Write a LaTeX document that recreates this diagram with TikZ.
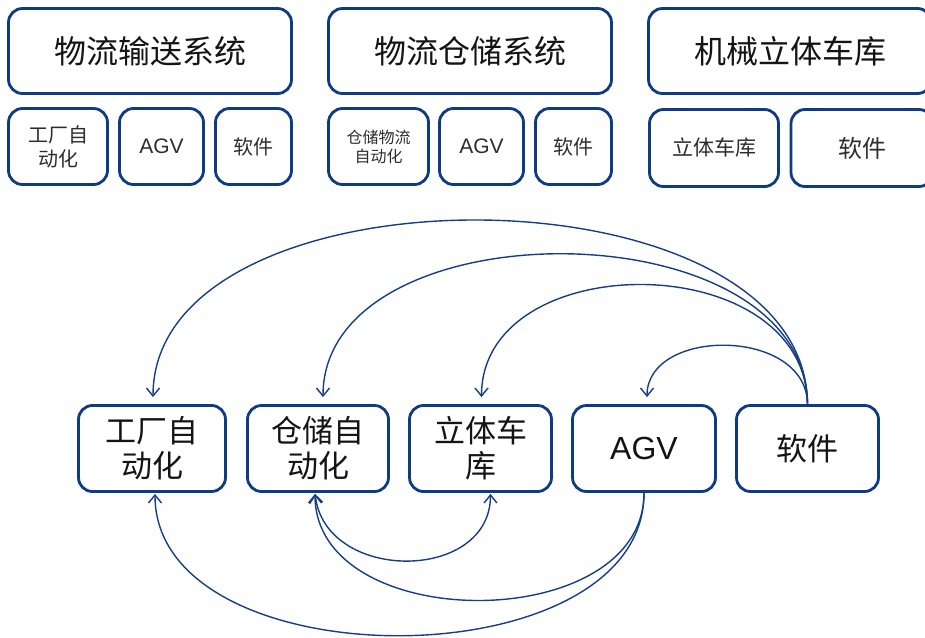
\documentclass[tikz,border=0pt]{standalone}
\usepackage{fontspec}
\setmainfont{Liberation Sans}
\newfontfamily\cjk{Noto Sans CJK SC}
\usetikzlibrary{arrows.meta}
\definecolor{boxblue}{RGB}{14,59,131}
\definecolor{linkblue}{RGB}{22,62,136}
\definecolor{txt}{RGB}{20,20,20}
\definecolor{txtsmall}{RGB}{45,45,45}
\begin{document}
\begin{tikzpicture}[x=1pt,y=-1pt,
  box/.style={draw=boxblue, line width=2.8pt, rounded corners=14pt, fill=white, align=center, inner sep=0pt, text=txt},
  title/.style={box, minimum width=283pt, minimum height=85pt, font=\cjk\fontsize{32}{38}\selectfont},
  sub/.style={box, minimum height=76pt, text=txtsmall},
  big/.style={box, minimum width=142pt, minimum height=86pt, font=\cjk\fontsize{31}{35}\selectfont},
  link/.style={draw=linkblue, line width=1.4pt, -{Straight Barb[length=8pt,width=13pt]}, shorten >=7pt},
  blink/.style={draw=linkblue, line width=1.4pt, -{Straight Barb[length=8pt,width=13pt]}, shorten >=1pt},
]
\useasboundingbox (0,0) rectangle (925,637);

% top titles
\node[title] (A) at (150,51) {物流输送系统};
\node[title] (B) at (470,51) {物流仓储系统};
\node[title] (C) at (790,51) {机械立体车库};

% top sub boxes
\node[sub, minimum width=99pt, font=\cjk\fontsize{20}{24}\selectfont] (a1) at (58,146.5) {工厂自\\动化};
\node[sub, minimum width=84pt, font=\fontsize{21}{25}\selectfont] (a2) at (161.5,146.5) {AGV};
\node[sub, minimum width=76pt, font=\cjk\fontsize{20}{24}\selectfont] (a3) at (253.5,146.5) {软件};

\node[sub, minimum width=100pt, font=\cjk\fontsize{16}{19}\selectfont] (b1) at (378.5,146.5) {仓储物流\\自动化};
\node[sub, minimum width=84pt, font=\fontsize{21}{25}\selectfont] (b2) at (481.5,146.5) {AGV};
\node[sub, minimum width=76pt, font=\cjk\fontsize{20}{24}\selectfont] (b3) at (573.5,146.5) {软件};

\node[sub, minimum width=129pt, minimum height=77pt, font=\cjk\fontsize{21}{25}\selectfont] (c1) at (714,148) {立体车库};
\node[sub, minimum width=142pt, minimum height=77pt, font=\cjk\fontsize{24}{28}\selectfont] (c2) at (862,148) {软件};

% bottom row
\node[big, minimum width=147pt] (f1) at (152,448.5) {工厂自\\动化};
\node[big, minimum width=141pt] (f2) at (318,448.5) {仓储自\\动化};
\node[big] (f3) at (480.5,448.5) {立体车\\库};
\node[big, minimum width=143pt, font=\fontsize{32}{38}\selectfont] (f4) at (644,448.5) {AGV};
\node[big] (f5) at (807.5,448.5) {软件};

% arcs from software
\draw[link] (f5.north) .. controls +(-2,-244) and +(0,-244) .. ([xshift=1pt]f1.north);
\draw[link] (f5.north) .. controls +(-2,-199) and +(0,-199) .. ([xshift=5pt]f2.north);
\draw[link] (f5.north) .. controls +(-2,-158) and +(0,-158) .. ([xshift=1pt]f3.north);
\draw[link] (f5.north) .. controls +(-1,-77) and +(0,-77) .. ([xshift=3pt]f4.north);

% bottom arcs
\draw[blink, {Straight Barb[length=8pt,width=13pt]}-{Straight Barb[length=8pt,width=13pt]}, shorten <=1pt] ([xshift=-3pt]f2.south) .. controls +(10,90) and +(0,90) .. ([xshift=10pt]f3.south);
\draw[blink] (f4.south) .. controls +(0,143) and +(0,143) .. ([xshift=-3pt]f2.south);
\draw[blink] (f4.south) .. controls +(0,190) and +(0,190) .. ([xshift=3pt]f1.south);
\end{tikzpicture}
\end{document}
